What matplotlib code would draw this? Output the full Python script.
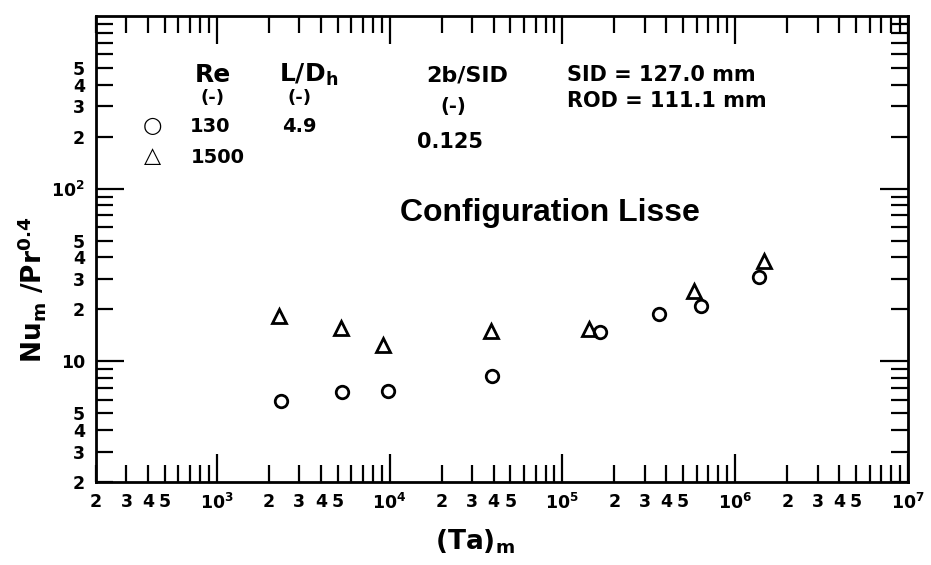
import numpy as np
import matplotlib
matplotlib.use("Agg")
import matplotlib.pyplot as plt

plt.rcParams['font.family'] = ['DejaVu Sans']
plt.rcParams['mathtext.default'] = 'bf'

# Data: (Ta)_m vs Nu_m / Pr^0.4
ta_re130 = [2340, 5270, 9800, 39000, 166000, 360000, 630000, 1370000]
nu_re130 = [5.87, 6.64, 6.73, 8.23, 14.8, 18.7, 20.8, 30.9]
ta_re1500 = [2290, 5220, 9100, 38500, 142000, 580000, 1470000]
nu_re1500 = [18.4, 15.6, 12.4, 15.0, 15.3, 25.4, 37.9]

x_major = [1e3, 1e4, 1e5, 1e6, 1e7]
x_major_labels = ['$10^3$', '$10^4$', '$10^5$', '$10^6$', '$10^7$']
y_major = [10, 100]
y_major_labels = ['10', '$10^2$']

fig = plt.figure(figsize=(9.31, 5.65), dpi=100)
ax = fig.add_axes([96/931, 83/565, 812/931, 466/565])

ax.set_xscale('log')
ax.set_yscale('log')
ax.set_xlim(200, 1e7)
ax.set_ylim(2, 1000)

ax.plot(ta_re130, nu_re130, linestyle='none', marker='o', markersize=9,
        markerfacecolor='none', markeredgecolor='black', markeredgewidth=2)
ax.plot(ta_re1500, nu_re1500, linestyle='none', marker='^', markersize=10,
        markerfacecolor='none', markeredgecolor='black', markeredgewidth=2)

# ticks
ax.set_xticks(x_major, labels=x_major_labels)
ax.set_yticks(y_major, labels=y_major_labels)

xminor, xminor_lab = [], []
for dec in [100, 1e3, 1e4, 1e5, 1e6]:
    for m in range(2, 10):
        v = m * dec
        if 200 <= v < 1e7:
            xminor.append(v)
            xminor_lab.append(str(m) if m <= 5 else '')
ax.set_xticks(xminor, labels=xminor_lab, minor=True)

yminor, yminor_lab = [], []
for dec in [1, 10, 100]:
    for m in range(2, 10):
        v = m * dec
        if 2 <= v < 1000:
            yminor.append(v)
            yminor_lab.append(str(m) if m <= 5 else '')
ax.set_yticks(yminor, labels=yminor_lab, minor=True)

ax.tick_params(which='both', direction='in', top=True, right=True,
               width=1.6, labelsize=12.5, pad=8)
ax.tick_params(which='major', length=20)
ax.tick_params(which='minor', length=12)
for lab in ax.get_xticklabels(which='both') + ax.get_yticklabels(which='both'):
    lab.set_fontweight('bold')

for s in ax.spines.values():
    s.set_linewidth(2)

# annotations
kw = dict(transform=ax.transAxes, fontweight='bold', ha='center', va='center')
ax.text(0.144, 0.873, 'Re', fontsize=18, **kw)
ax.text(0.144, 0.824, '(-)', fontsize=13, **kw)
ax.text(0.140, 0.762, '130', fontsize=14, **kw)
ax.text(0.150, 0.697, '1500', fontsize=14, **kw)
ax.text(0.070, 0.764, '\u25CB', fontsize=16, **kw)
ax.text(0.070, 0.700, '\u25B3', fontsize=16, **kw)
ax.text(0.262, 0.873, 'L/D$_h$', fontsize=18, **kw)
ax.text(0.251, 0.824, '(-)', fontsize=13, **kw)
ax.text(0.251, 0.762, '4.9', fontsize=14, **kw)
ax.text(0.457, 0.873, '2b/SID', fontsize=16, **kw)
ax.text(0.440, 0.805, '(-)', fontsize=14, **kw)
ax.text(0.436, 0.730, '0.125', fontsize=15, **kw)
ax.text(0.580, 0.873, 'SID = 127.0 mm', fontsize=15, transform=ax.transAxes,
        fontweight='bold', ha='left', va='center')
ax.text(0.580, 0.818, 'ROD = 111.1 mm', fontsize=15, transform=ax.transAxes,
        fontweight='bold', ha='left', va='center')
ax.text(0.559, 0.577, 'Configuration Lisse', fontsize=23, transform=ax.transAxes,
        ha='center', va='center', family='Liberation Sans', fontweight='bold')

fig.text(475/931, 1 - 542/565, '(Ta)$_m$', fontsize=19, fontweight='bold',
         ha='center', va='center')
fig.text(32/931, 1 - 290/565, 'Nu$_m$ /Pr$^{0.4}$', fontsize=19, fontweight='bold',
         ha='center', va='center', rotation=90)

fig.savefig('out.png', dpi=100)
